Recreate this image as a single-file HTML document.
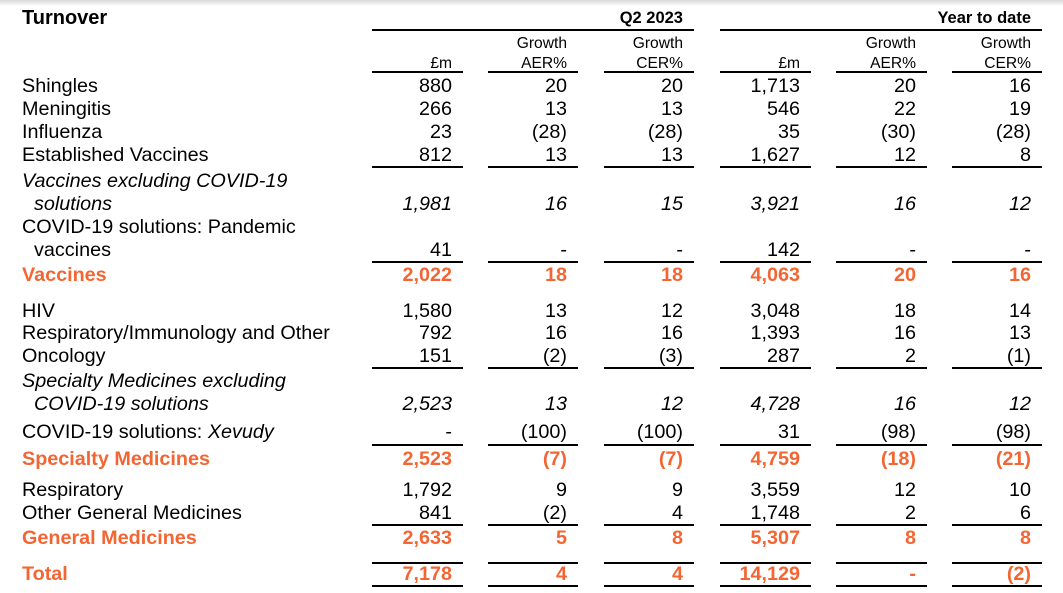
<!DOCTYPE html>
<html><head><meta charset="utf-8">
<style>
html,body{margin:0;padding:0;background:#fff;}
#root{position:relative;width:1063px;height:593px;overflow:hidden;font-family:"Liberation Sans",Arial,sans-serif;color:#000;}
.t{position:absolute;white-space:nowrap;font-size:19.8px;line-height:20px;}
.r{text-align:right;}
.h{font-size:15.6px;line-height:18px;}
.o{color:#F36633;font-weight:bold;}
.i{font-style:italic;}
.ln{position:absolute;height:1.5px;background:#000;}
#shadow{position:absolute;left:0;top:0;width:1063px;height:6px;background:linear-gradient(#d8d8d8,#fff);}
</style></head>
<body>
<div id="root">
<div id="shadow"></div>
<div class="t" style="left:22px;top:8px;font-weight:bold;font-size:20px;">Turnover</div>
<div class="t h r" style="left:563px;width:120px;top:9px;font-weight:bold;font-size:16.5px;">Q2 2023</div>
<div class="t h r" style="left:880px;width:151px;top:9px;font-weight:bold;font-size:16.5px;">Year to date</div>
</div>
<script>
const root=document.getElementById('root');
const colRight=[452,567,683,800,916,1031];
const colLine=[[372,463],[488,578],[604,694],[720,811],[836,927],[952,1042]];
const headers=[["","£m"],["Growth","AER%"],["Growth","CER%"],["","£m"],["Growth","AER%"],["Growth","CER%"]];
const rows=[
 ["Shingles",86,"",["880","20","20","1,713","20","16"]],
 ["Meningitis",109,"",["266","13","13","546","22","19"]],
 ["Influenza",132,"",["23","(28)","(28)","35","(30)","(28)"]],
 ["Established Vaccines",155,"",["812","13","13","1,627","12","8"]],
 ["Vaccines excluding COVID-19|solutions",204,"i",["1,981","16","15","3,921","16","12"]],
 ["COVID-19 solutions: Pandemic|vaccines",250,"",["41","-","-","142","-","-"]],
 ["Vaccines",275,"o",["2,022","18","18","4,063","20","16"]],
 ["HIV",311,"",["1,580","13","12","3,048","18","14"]],
 ["Respiratory/Immunology and Other",333,"",["792","16","16","1,393","16","13"]],
 ["Oncology",356,"",["151","(2)","(3)","287","2","(1)"]],
 ["Specialty Medicines excluding|COVID-19 solutions",404,"i",["2,523","13","12","4,728","16","12"]],
 ["COVID-19 solutions: <i>Xevudy</i>",432,"",["-","(100)","(100)","31","(98)","(98)"]],
 ["Specialty Medicines",459,"o",["2,523","(7)","(7)","4,759","(18)","(21)"]],
 ["Respiratory",490,"",["1,792","9","9","3,559","12","10"]],
 ["Other General Medicines",513,"",["841","(2)","4","1,748","2","6"]],
 ["General Medicines",538,"o",["2,633","5","8","5,307","8","8"]],
 ["Total",574,"o",["7,178","4","4","14,129","-","(2)"]]
];
const lineYs=[71,166,261,367,444,524,562,585];
function mk(cls,html,left,top,width){
 const d=document.createElement('div');d.className=cls;d.innerHTML=html;
 d.style.left=left+'px';d.style.top=top+'px';if(width)d.style.width=width+'px';
 root.appendChild(d);return d;
}
headers.forEach((h,c)=>{
 if(h[0]){const a=mk('t h r',h[0],colRight[c]-100,35,100);
 
 }
 const b=mk('t h r',h[1],colRight[c]-100,55,100);
 
 
});
rows.forEach(r=>{
 const parts=r[0].split('|');const y=r[1];const st=r[2];
 const lcls='t'+(st==='i'?' i':'')+(st==='o'?' o':'');
 if(parts.length===2){
  const a=mk(lcls,parts[0],22,y-33);
  
  
  const b=mk(lcls,parts[1],34,y-10);
  
  
 } else {
  const a=mk(lcls,parts[0],22,y-10);
  
  
 }
 r[3].forEach((v,c)=>{
  const d=mk(lcls+' r',v,colRight[c]-110,y-10,110);
  
  
 });
});
[[372,694],[720,1042]].forEach(s=>{
 const l=mk('ln','',s[0],29,s[1]-s[0]);
 
 
});
lineYs.forEach(y=>{
 colLine.forEach(s=>{
  const l=mk('ln','',s[0],y,s[1]-s[0]);
  
  
 });
});
</script>
</body></html>
